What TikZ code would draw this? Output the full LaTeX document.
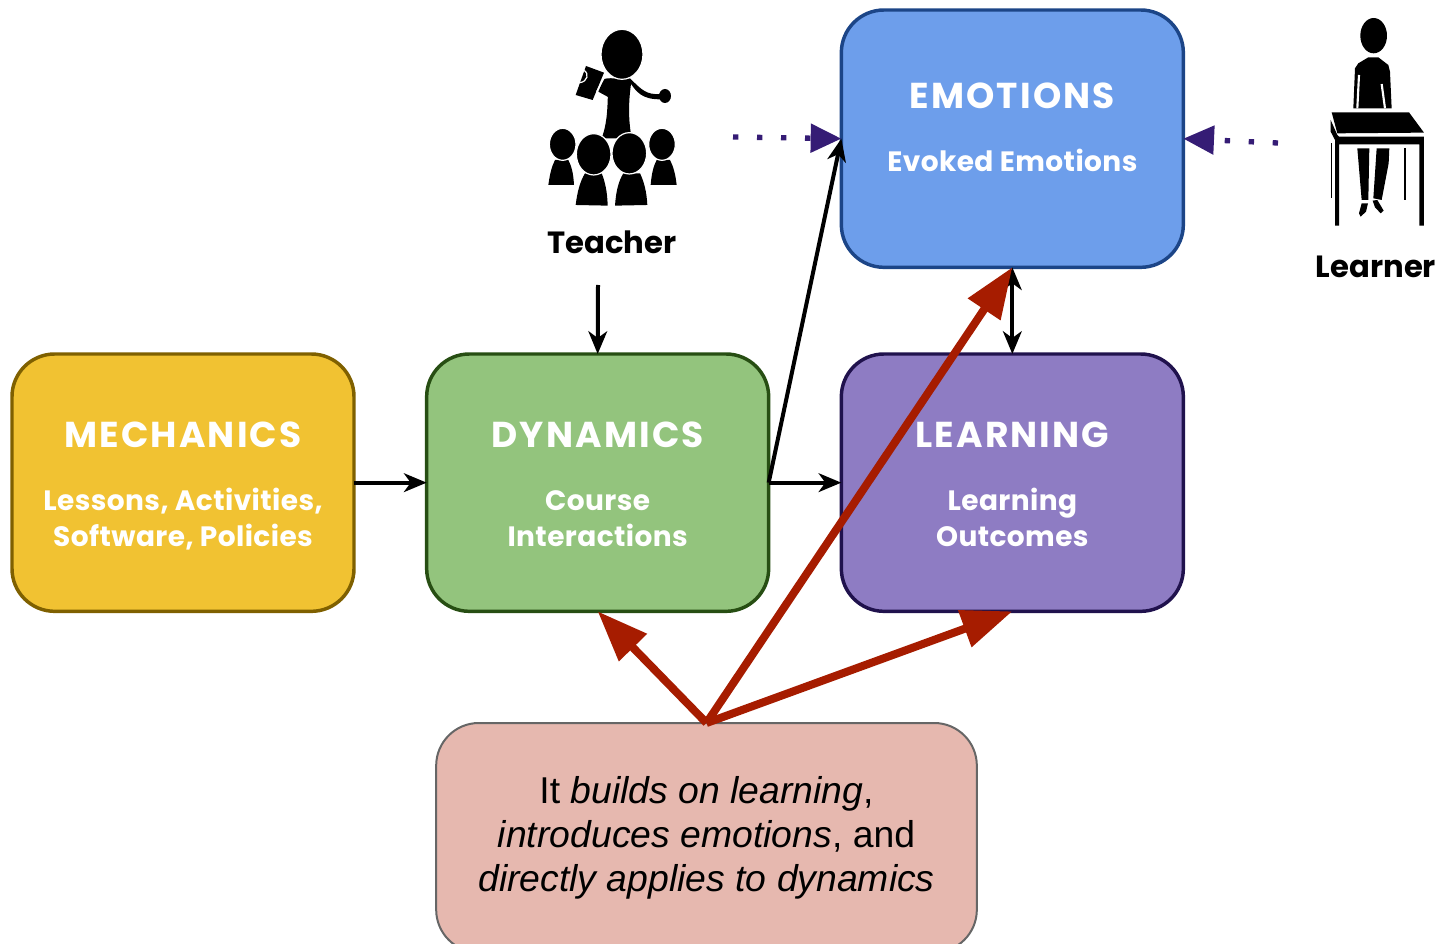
\documentclass[tikz,border=0pt]{standalone}
\usepackage{fontspec}
\setmainfont{Liberation Sans}
\newfontfamily\titlefont{Poppins}
\newfontfamily\headfont[LetterSpace=6]{Poppins}
\newfontfamily\subfont[LetterSpace=1.5]{Poppins}
\usetikzlibrary{arrows.meta}
\usetikzlibrary{positioning}
\definecolor{mechfill}{HTML}{F1C232}
\definecolor{mechline}{HTML}{7F6000}
\definecolor{dynfill}{HTML}{93C47D}
\definecolor{dynline}{HTML}{274E13}
\definecolor{learnfill}{HTML}{8E7CC3}
\definecolor{learnline}{HTML}{20124D}
\definecolor{emofill}{HTML}{6D9EEB}
\definecolor{emoline}{HTML}{1C4587}
\definecolor{notefill}{HTML}{E6B8AF}
\definecolor{noteline}{HTML}{666666}
\definecolor{redline}{HTML}{A61C00}
\definecolor{dotline}{HTML}{351C75}
\newcommand{\boxhead}[1]{{\headfont\fontsize{27}{27}\bfseries\rule{0pt}{27pt}#1}}
\newcommand{\boxsub}[1]{{\subfont\fontsize{21}{27}\bfseries\vphantom{Ag,}#1}}
\tikzset{x=0.75pt,y=-0.75pt,
         mainbox/.style={draw,line width=2.6pt,rounded corners=32pt,minimum width=256.5pt,minimum height=193pt,
                         outer sep=0pt,align=center,text=white,font=\fontsize{21}{27}\selectfont},
         notebox/.style={draw=noteline,fill=notefill,line width=1.5pt,rounded corners=32pt,minimum width=405.5pt,
                         minimum height=172pt,outer sep=0pt,align=center,font=\fontsize{28}{33}\selectfont},
         person/.style={font=\titlefont\fontsize{23}{28}\bfseries},
         flow/.style={line width=3pt,-{Stealth[length=17pt,width=14pt,inset=5pt]}},
         bothflow/.style={line width=3pt,{Stealth[length=17pt,width=14pt,inset=5pt]}-{Stealth[length=17pt,width=14pt,inset=5pt]}},
         redflow/.style={draw=redline,line width=6pt,-{Triangle[length=38pt,width=28pt]},redline},
         dotflow/.style={draw=dotline,line width=4pt,dash pattern=on 4pt off 14pt,dotline,
                         -{Triangle[length=23pt,width=21pt]}},
         icon/.style={fill=black,draw=none},
         iconpart/.style={fill=black,draw=white,line width=0.9pt},
         }
\begin{document}
\begin{tikzpicture}
\useasboundingbox (0,0) rectangle (1448,944);

\node[mainbox,draw=mechline,fill=mechfill,anchor=north west] (mechanics) at (12,354)
    {\boxhead{MECHANICS}\\[20.25pt]\boxsub{Lessons, Activities,}\\\boxsub{Software, Policies}};
\node[mainbox,draw=dynline,fill=dynfill,right=54.5pt of mechanics] (dynamics)
    {\boxhead{DYNAMICS}\\[20.25pt]\boxsub{Course}\\\boxsub{Interactions}};
\node[mainbox,draw=learnline,fill=learnfill,right=54.5pt of dynamics] (learning)
    {\boxhead{LEARNING}\\[20.25pt]\boxsub{Learning}\\\boxsub{Outcomes}};
\node[mainbox,draw=emoline,fill=emofill,above=65pt of learning] (emotions)
    {\boxhead{EMOTIONS}\\[20.25pt]\boxsub{Evoked Emotions}\\[-2pt]\mbox{}};
\node[notebox,anchor=north] (note) at (706.5,723)
    {It \textit{builds on learning},\\\textit{introduces emotions}, and\\\textit{directly applies to dynamics}};

\node[person] (teacher) at (612,242) {Teacher};
\node[person] (learner) at (1376,267) {Learner};
\coordinate (teacherout) at (598,285);
\coordinate (teacherdot) at (733,137);
\coordinate (learnerdot) at (1278,143);

% teacher icon
\begin{scope}[shift={(530,10)},scale=0.3333]
\fill[icon] (235,215) .. controls (232,280) and (235,330) .. (215,385) -- (305,385)
    .. controls (295,330) and (295,280) .. (303,222) .. controls (320,245) and (335,268) .. (390,268)
    -- (390,252) .. controls (350,255) and (335,240) .. (300,205) -- (240,205) -- cycle;
\fill[icon] (222,205) -- (245,205) -- (236,262) -- (205,245) -- cycle;
\fill[icon] (405,258) ellipse [x radius=18,y radius=21];
\fill[icon] (168,168) -- (222,188) -- (188,270) -- (137,255) -- cycle;
\draw[white,line width=0.9pt] (160,180) .. controls (180,190) and (172,215) .. (150,218);
\draw[white,line width=0.9pt] (200,245) -- (222,205) -- (240,200);
\filldraw[iconpart] (276,133) ellipse [x radius=63,y radius=75];
\fill[icon] (55,525) .. controls (60,490) and (65,470) .. (75,450) -- (115,450)
    .. controls (125,470) and (130,490) .. (132,525) -- cycle;
\fill[icon] (362,525) .. controls (365,490) and (370,470) .. (380,450) -- (420,450)
    .. controls (430,470) and (436,490) .. (440,525) -- cycle;
\filldraw[iconpart] (98,403) ellipse [x radius=40,y radius=48];
\filldraw[iconpart] (396,403) ellipse [x radius=40,y radius=48];
\fill[icon] (137,585) .. controls (142,545) and (150,515) .. (165,490) -- (215,490)
    .. controls (225,515) and (232,545) .. (233,587) -- cycle;
\fill[icon] (255,587) .. controls (258,545) and (265,515) .. (280,490) -- (330,490)
    .. controls (342,515) and (350,545) .. (352,585) -- cycle;
\filldraw[iconpart] (191,433) ellipse [x radius=52,y radius=62];
\filldraw[iconpart] (298,430) ellipse [x radius=52,y radius=62];
\end{scope}

% learner icon
\begin{scope}[shift={(1180,0)},scale=0.3333]
\fill[icon] (581,107) ellipse [x radius=40,y radius=53];
\fill[icon] (520,325) -- (525,205) -- (535,190) -- (565,172) -- (595,172) -- (625,195) -- (630,215) -- (635,325) -- cycle;
\draw[white,line width=1.6pt] (537,225) -- (532,325);
\draw[white,line width=1.6pt] (605,252) -- (615,325);
\fill[icon] (455,337) -- (687,337) -- (732,398) -- (472,400) -- cycle;
\fill[icon] (452,360) -- (472,405) -- (477,410) -- (732,410) -- (732,677) -- (718,677) -- (718,433) -- (477,433)
    -- (477,677) -- (465,677) -- (465,420) -- (452,395) -- cycle;
\fill[icon] (452,430) rectangle (457,595);
\fill[icon] (671,445) rectangle (679,600);
\fill[icon] (532,445) -- (568,445) -- (565,600) -- (545,600) -- cycle;
\fill[icon] (590,445) -- (628,445) -- (626,490) -- (605,600) -- (580,595) -- cycle;
\fill[icon] (545,610) -- (564,610) -- (558,635) -- (542,650) -- (537,640) -- cycle;
\fill[icon] (578,602) -- (592,600) -- (611,632) -- (602,640) -- (585,622) -- cycle;
\end{scope}

\draw[flow] (mechanics.east) -- (dynamics.west);
\draw[flow] (dynamics.east) -- (learning.west);
\draw[flow] (dynamics.east) -- (emotions.west);
\draw[flow] (teacherout) -- (dynamics.north);
\draw[bothflow] (emotions.south) -- (learning.north);
\draw[dotflow] (teacherdot) -- (emotions.west);
\draw[dotflow] (learnerdot) -- (emotions.east);
\draw[redflow] (note.north) -- (dynamics.south);
\draw[redflow] (note.north) -- (emotions.south);
\draw[redflow] (note.north) -- (learning.south);
\end{tikzpicture}
\end{document}
